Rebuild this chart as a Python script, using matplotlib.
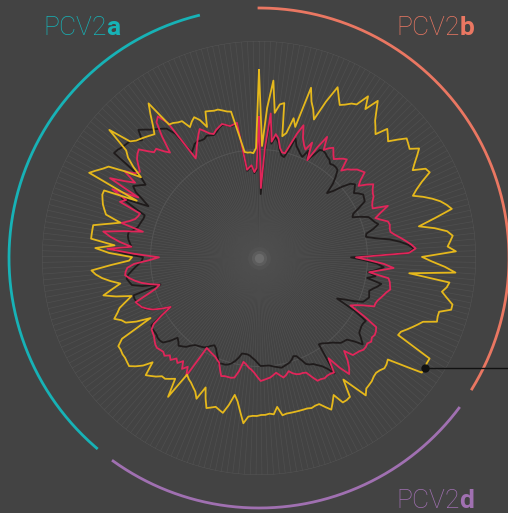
import numpy as np
import matplotlib.pyplot as plt
from matplotlib.lines import Line2D

plt.rcParams['mathtext.fontset'] = 'custom'
plt.rcParams['mathtext.rm'] = 'Roboto'
plt.rcParams['mathtext.bf'] = 'Roboto:bold'

# one spoke per residue position, read clockwise from the top
n_pos = 233

yellow = [188, 112, 150, 178, 146, 155, 157, 124, 128, 144, 136, 178, 165, 158, 149, 170, 188, 180, 173, 176,
          180, 182, 195, 183, 197, 188, 180, 175, 170, 182, 178, 174, 182, 190, 188, 186, 194, 188, 182, 177,
          189, 191, 180, 172, 166, 175, 183, 190, 195, 199, 180, 163, 178, 190, 195, 192, 189, 197, 163, 173,
          186, 197, 151, 192, 190, 186, 192, 199, 199, 188, 188, 189, 176, 172, 168, 164, 160, 159, 198, 198,
          199, 199, 180, 164, 166, 167, 165, 164, 165, 167, 168, 169, 174, 160, 148, 166, 167, 167, 156, 162,
          168, 163, 158, 158, 159, 158, 158, 158, 158, 158, 158, 159, 150, 157, 156, 157, 157, 158, 158, 159,
          166, 155, 145, 139, 150, 159, 157, 155, 157, 159, 150, 140, 154, 148, 145, 142, 140, 137, 166, 147,
          150, 153, 153, 157, 160, 163, 149, 158, 164, 169, 168, 167, 167, 166, 166, 159, 124, 138, 148, 151,
          157, 152, 148, 140, 133, 148, 160, 150, 141, 150, 158, 164, 168, 148, 130, 127, 150, 164, 145, 169,
          169, 169, 169, 155, 143, 159, 162, 165, 167, 169, 169, 135, 190, 185, 180, 176, 160, 143, 155, 165,
          171, 197, 174, 170, 168, 166, 164, 162, 170, 180, 190, 161, 160, 158, 157, 148, 152, 155, 150, 141,
          156, 155, 154, 154, 152, 150, 149, 125, 107, 106, 106, 105, 110]

crimson = [141, 70, 110, 145, 117, 125, 121, 112, 108, 108, 118, 130, 140, 128, 122, 118, 127, 109, 125, 139,
           126, 130, 133, 128, 124, 127, 130, 132, 120, 125, 128, 132, 134, 136, 128, 123, 130, 136, 133, 131,
           130, 127, 125, 124, 139, 130, 123, 128, 134, 135, 134, 134, 138, 143, 148, 153, 157, 150, 97, 110,
           125, 135, 122, 111, 131, 133, 134, 135, 132, 130, 128, 126, 125, 125, 115, 108, 103, 120, 136, 138,
           139, 138, 140, 138, 139, 139, 137, 136, 135, 126, 135, 142, 147, 136, 122, 137, 136, 136, 137, 136,
           136, 130, 124, 123, 123, 122, 120, 117, 120, 122, 119, 116, 118, 120, 121, 122, 123, 119, 115, 112,
           110, 107, 105, 115, 122, 123, 123, 123, 124, 118, 112, 110, 108, 107, 106, 105, 104, 139, 130, 135,
           128, 133, 130, 135, 132, 136, 134, 135, 136, 135, 133, 131, 130, 129, 124, 113, 101, 110, 118, 123,
           127, 129, 131, 118, 108, 103, 112, 120, 126, 131, 135, 134, 132, 125, 110, 100, 125, 152, 128, 140,
           150, 158, 138, 119, 142, 135, 130, 128, 127, 150, 145, 162, 135, 169, 155, 145, 160, 150, 147, 152,
           157, 160, 162, 155, 149, 150, 143, 138, 155, 170, 174, 163, 118, 122, 127, 132, 137, 142, 138, 134,
           132, 135, 137, 139, 137, 135, 136, 137, 89, 91, 93, 86, 90]

black = [141, 64, 105, 140, 115, 122, 118, 110, 105, 104, 112, 125, 118, 115, 112, 110, 118, 109, 116, 124,
         125, 124, 122, 121, 118, 119, 119, 118, 112, 105, 94, 100, 110, 118, 121, 118, 115, 119, 122, 121,
         120, 112, 104, 102, 110, 117, 119, 121, 124, 118, 110, 109, 118, 132, 142, 150, 155, 150, 92, 105,
         118, 125, 118, 110, 118, 110, 125, 122, 118, 115, 116, 117, 115, 113, 105, 95, 88, 110, 124, 123,
         123, 124, 125, 130, 135, 126, 120, 119, 118, 115, 112, 110, 108, 106, 105, 138, 130, 125, 122, 119,
         118, 116, 110, 105, 104, 107, 109, 110, 111, 112, 111, 110, 109, 108, 108, 108, 108, 105, 102, 100,
         98, 97, 97, 97, 102, 106, 109, 111, 112, 112, 113, 108, 104, 100, 98, 100, 103, 105, 106, 107,
         108, 111, 115, 117, 119, 116, 114, 122, 128, 129, 129, 128, 128, 128, 127, 114, 101, 110, 118, 124,
         127, 129, 130, 131, 131, 102, 120, 130, 132, 134, 132, 128, 124, 120, 117, 116, 135, 149, 128, 130,
         132, 133, 133, 128, 125, 124, 123, 122, 122, 135, 150, 122, 130, 140, 145, 140, 135, 143, 179, 178,
         176, 175, 174, 170, 166, 176, 172, 168, 165, 162, 159, 150, 125, 128, 131, 132, 131, 131, 133, 132,
         131, 133, 136, 138, 137, 135, 135, 136, 88, 90, 92, 85, 88]

groups = ['PCV2a', 'PCV2b', 'PCV2d']

bg = '#434343'
grid_c = '#4f4f4f'
c_yellow = '#e5b81c'
c_crimson = '#e0265a'
c_black = '#1f1b1b'
group_colors = ['#17b2b6', '#ea7762', '#a070b1']
# arc spans in degrees (counter-clockwise from east)
arc_spans = [(104, 229.5), (-31.6, 90), (-125.7, -36.9)]

W, H = 508, 513
cx, cy, R = 259, 258, 217

fig = plt.figure(figsize=(W / 100, H / 100), dpi=100, facecolor=bg)
ax = fig.add_axes([(cx - R) / W, (H - cy - R) / H, 2 * R / W, 2 * R / H], projection='polar')
ax.set_theta_zero_location('N')
ax.set_theta_direction(-1)
ax.set_ylim(0, R)
ax.set_axis_off()

theta = np.arange(n_pos) * 2 * np.pi / n_pos

# spokes and rings
ax.vlines(theta, 0, R, color=grid_c, lw=0.5, zorder=1)
ring = np.linspace(0, 2 * np.pi, 400)
for rr in [R / 2, R]:
    ax.plot(ring, np.full_like(ring, rr), color='#555555', lw=0.7, zorder=1)

# little glow in the middle
for s, a in [(260, 0.08), (120, 0.18), (45, 0.35)]:
    ax.scatter([0], [0], s=s, color='#8a8a8a', alpha=a, lw=0, zorder=2)

th_c = np.append(theta, theta[0])
for vals, col, z in [(black, c_black, 3), (crimson, c_crimson, 4), (yellow, c_yellow, 5)]:
    v = np.append(vals, vals[0])
    ax.plot(th_c, v, color=col, lw=1.3, zorder=z)

# outer genotype arcs
for (a0, a1), col in zip(arc_spans, group_colors):
    t = np.deg2rad(90 - np.linspace(a0, a1, 200))
    ax.plot(t, np.full_like(t, 250), color=col, lw=2.0, clip_on=False, zorder=6)

fig.text(43 / W, 1 - 35 / H, r'PCV2$\mathbf{a}$', color=group_colors[0], fontsize=19,
         family='Roboto', fontweight='light', ha='left', va='baseline')
fig.text(475 / W, 1 - 35 / H, r'PCV2$\mathbf{b}$', color=group_colors[1], fontsize=19,
         family='Roboto', fontweight='light', ha='right', va='baseline')
fig.text(475 / W, 1 - 508 / H, r'PCV2$\mathbf{d}$', color=group_colors[2], fontsize=19,
         family='Roboto', fontweight='light', ha='right', va='baseline')

# pointer to one of the yellow peaks
k = 80
px, py = ax.transData.transform((theta[k], yellow[k]))
fx, fy = fig.transFigure.inverted().transform((px, py))
fig.add_artist(Line2D([fx, 1.0], [fy, fy], color='#111111', lw=1.0, transform=fig.transFigure))
fig.add_artist(Line2D([fx], [fy], marker='o', ms=5, color='#111111', transform=fig.transFigure))

fig.savefig('out.png', dpi=100, facecolor=bg)
